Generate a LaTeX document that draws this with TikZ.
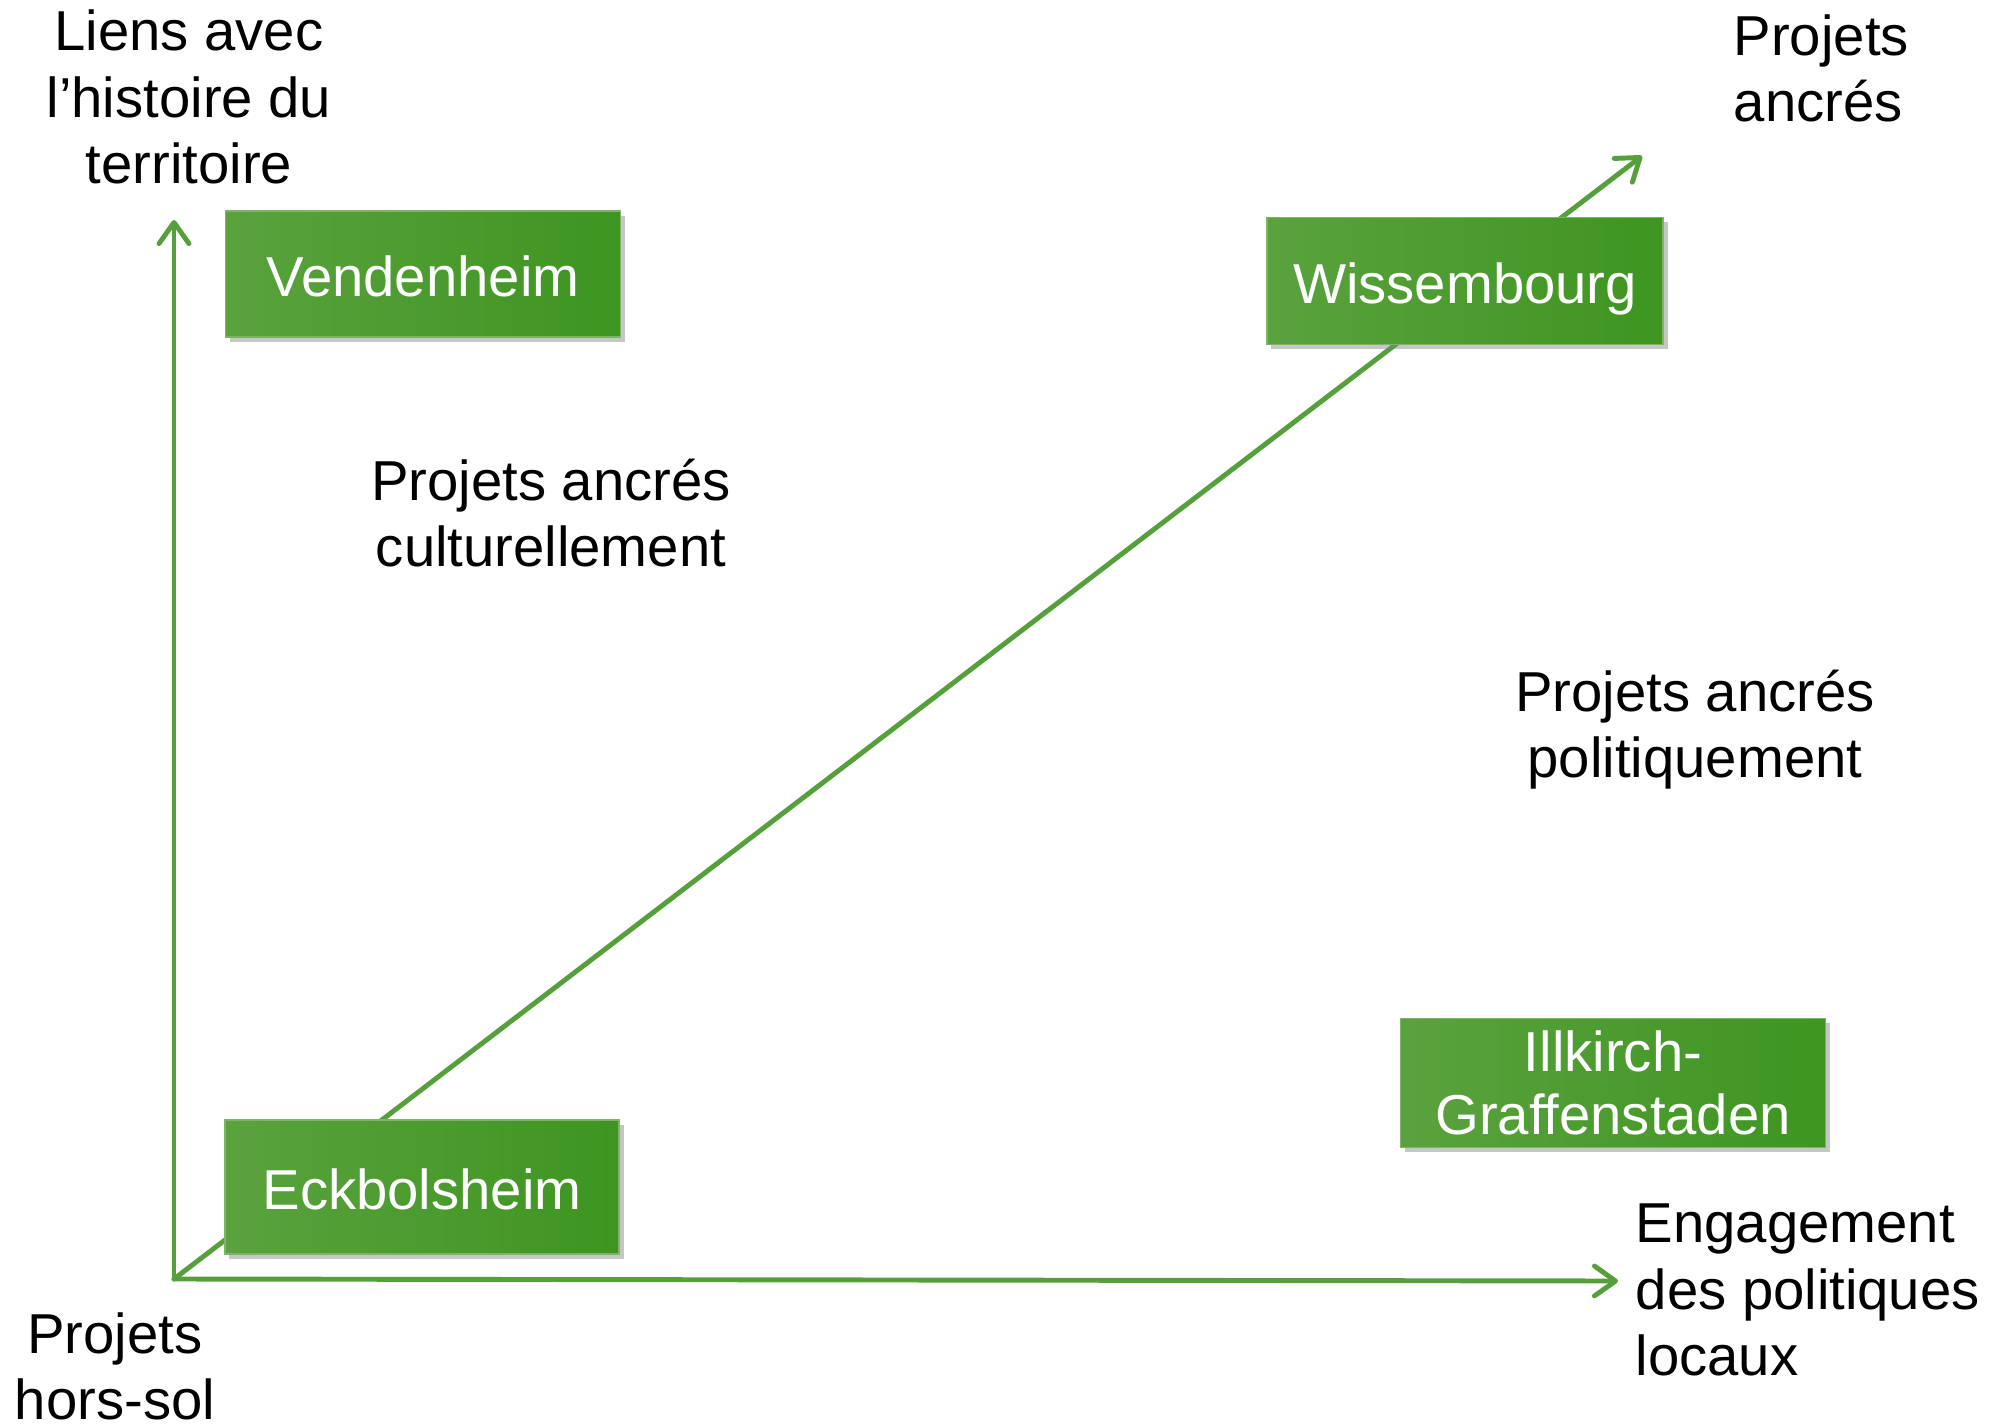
\documentclass[tikz,border=0pt]{standalone}
\usepackage{fontspec}
\setmainfont{Liberation Sans}
\usetikzlibrary{arrows.meta,shadows}

\definecolor{axegreen}{HTML}{56A03C}
\definecolor{villeA}{HTML}{5AA23E}
\definecolor{villeB}{HTML}{4AAB27}
\definecolor{villeC}{HTML}{3E9520}

\newcommand{\baisse}[2]{\raisebox{-#1}[\height][\depth]{#2}}

\tikzset{
	axe/.style={draw=axegreen, line width=1.4pt, line cap=round,
		-{Straight Barb[length=6pt,width=8.5pt,round]}},
	ville/.style={draw=villeA!80!white, line width=0.4pt,
		left color=villeA, middle color=villeB, right color=villeC,
		drop shadow={shadow xshift=1.3pt, shadow yshift=-1.3pt, opacity=0.45},
		text=white, align=center, inner sep=0pt,
		font=\fontsize{16}{18}\selectfont},
	legende/.style={align=center, inner sep=0pt,
		font=\fontsize{16}{18.8}\selectfont}
}

\begin{document}
\begin{tikzpicture}[x=0.01cm, y=-0.01cm]
	\useasboundingbox (0,0) rectangle (2006,1425);
	% axes
	\coordinate (O) at (174,1279);
	\coordinate (ytip) at (174,220);
	\coordinate (xtip) at (1618,1281);
	\coordinate (dtip) at (1642,156);
	\draw[axe] (O) -- (ytip);
	\draw[axe] (O) -- (xtip);
	\draw[axe] (O) -- (dtip);

	% communes
	\node[ville, minimum width=3.95cm, minimum height=1.26cm] (vendenheim)
		at (423,274) {\baisse{0.7pt}{Vendenheim}};
	\node[ville, minimum width=3.96cm, minimum height=1.27cm] (wissembourg)
		at (1465,281) {\baisse{2.2pt}{Wissembourg}};
	\node[ville, minimum width=3.94cm, minimum height=1.34cm] (eckbolsheim)
		at (422,1187) {\baisse{0.7pt}{Eckbolsheim}};
	\node[ville, minimum width=4.25cm, minimum height=1.29cm] (illkirch)
		at (1613,1083) {Illkirch-\\Graffenstaden};

	% legendes
	\node[legende] (liens) at (189,97) {Liens avec\\l'histoire du\\territoire};
	\node[legende, align=left, anchor=west] (ancres) at (1733,68) {Projets\\ancrés};
	\node[legende] (culture) at (551,513) {Projets ancrés\\culturellement};
	\node[legende] (politique) at (1695,730) {Projets ancrés\\politiquement};
	\node[legende, align=left, anchor=west] (engagement) at (1635,1290)
		{Engagement\\des politiques\\locaux};
	\node[legende] (horssol) at (115,1366) {Projets\\hors-sol};
\end{tikzpicture}
\end{document}
